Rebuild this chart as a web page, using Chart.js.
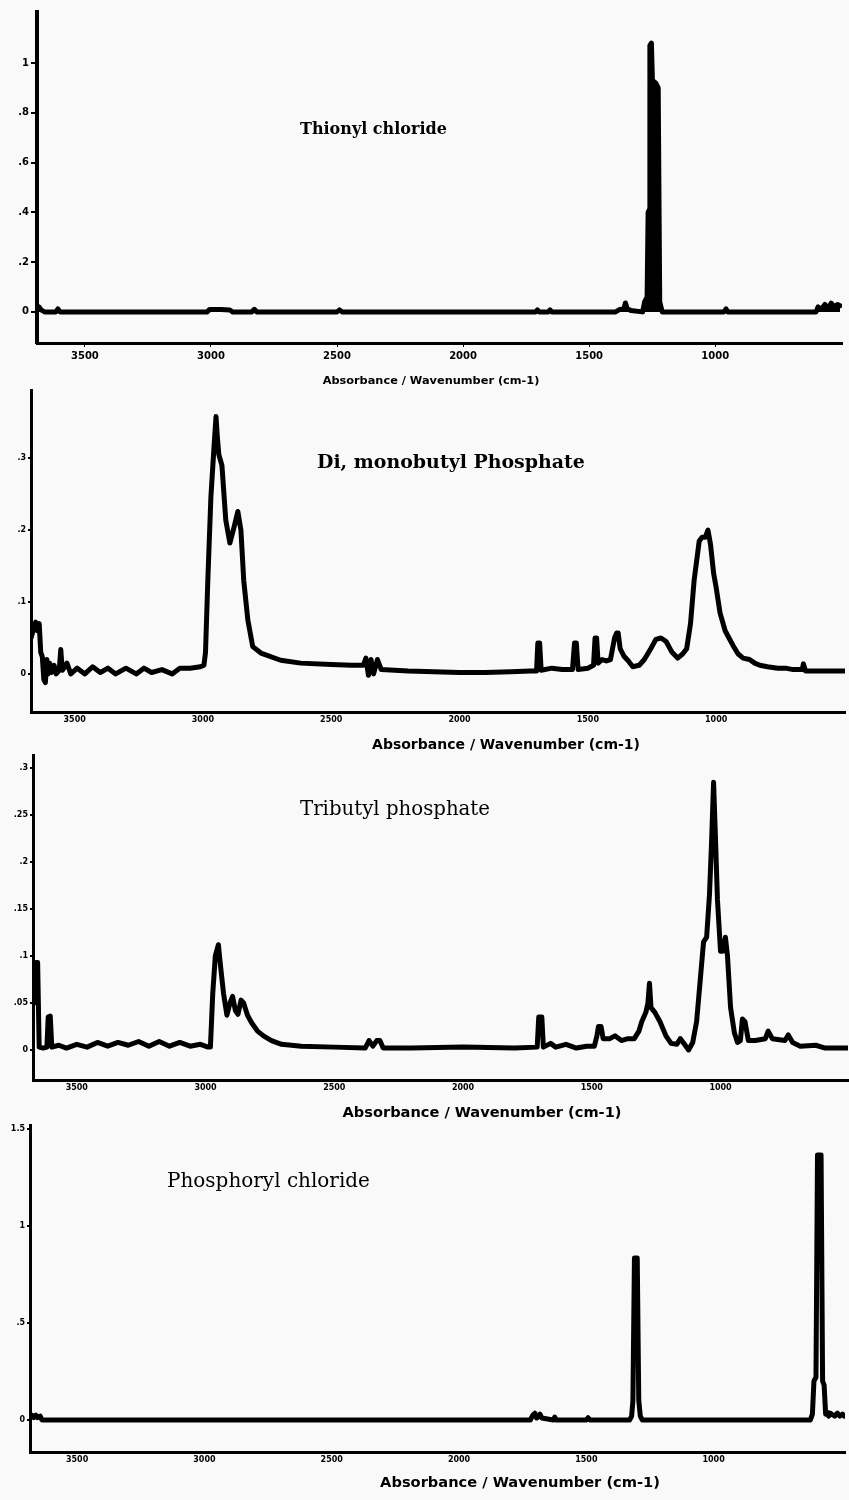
<!DOCTYPE html>
<html>
<head>
<meta charset="utf-8">
<title>IR spectra</title>
<script src="https://cdn.jsdelivr.net/npm/chart.js@4.4.1/dist/chart.umd.min.js"></script>
<style>
  body { margin: 0; background: #f9f9f9; }
  #page { position: relative; width: 849px; height: 1500px; overflow: hidden; }
  canvas { position: absolute; left: 0; }
</style>
</head>
<body>
<div id="page">
  <canvas id="c1"></canvas>
  <canvas id="c2"></canvas>
  <canvas id="c3"></canvas>
  <canvas id="c4"></canvas>
</div>
<script>
// wavenumber ticks shared by all four panels
const xTicks = [3500, 3000, 2500, 2000, 1500, 1000];

// Thionyl chloride
const thionylWn = [
  3690, 3682, 3674, 3660, 3615, 3607, 3598,
  3015, 3005, 2960, 2925, 2915,
  2838, 2828, 2818,
  2500, 2490, 2480,
  1712, 1705, 1698,
  1662, 1655, 1648,
  1395, 1378, 1362, 1356, 1349, 1335,
  1288, 1280, 1270, 1266, 1262, 1259, 1253, 1249, 1236, 1226, 1220, 1210,
  965, 957, 950,
  600, 592, 580, 565, 552, 540, 528, 515, 505
];
const thionylAbs = [
  0.012, 0.02, 0.008, 0, 0, 0.012, 0,
  0, 0.01, 0.01, 0.008, 0,
  0, 0.01, 0,
  0, 0.008, 0,
  0, 0.008, 0,
  0, 0.008, 0,
  0, 0.01, 0.012, 0.036, 0.012, 0.006,
  0, 0.04, 0.06, 0.40, 0.41, 1.07, 1.08, 0.93, 0.92, 0.9, 0.04, 0,
  0, 0.012, 0,
  0, 0.02, 0.01, 0.03, 0.015, 0.035, 0.02, 0.03, 0.025
];
const thionylTicksY = [0, 0.2, 0.4, 0.6, 0.8, 1];

// Di, monobutyl phosphate
const dibutylWn = [
  3670, 3662, 3652, 3645, 3638, 3632, 3626, 3620, 3614, 3608,
  3603, 3597, 3590, 3580, 3572, 3560, 3554, 3548, 3530, 3515,
  3490, 3460, 3430, 3400, 3370, 3340, 3300, 3260, 3230, 3200,
  3160, 3120, 3090, 3050, 3010, 2996, 2990, 2981, 2969, 2957,
  2949, 2944, 2938, 2926, 2911, 2895, 2879, 2864, 2852, 2841,
  2825, 2806, 2774, 2697, 2619, 2500, 2420, 2375, 2365, 2355,
  2345, 2335, 2320, 2305, 2200, 2100, 2000, 1900, 1800, 1724,
  1700, 1695, 1688, 1682, 1640, 1600, 1560, 1552, 1545, 1538,
  1500, 1478, 1472, 1466, 1460, 1445, 1428, 1412, 1396, 1388,
  1382, 1374, 1360, 1342, 1325, 1300, 1280, 1255, 1235, 1215,
  1195, 1172, 1150, 1130, 1115, 1100, 1086, 1066, 1055, 1043,
  1032, 1022, 1010, 1000, 985, 965, 950, 935, 915, 895,
  870, 850, 830, 800, 760, 730, 700, 665, 660, 652,
  600, 498
];
const dibutylAbs = [
  0.05, 0.06, 0.072, 0.06, 0.07, 0.03, 0.024, -0.008, -0.012, 0.02,
  0.0, 0.015, 0.002, 0.012, 0.0, 0.005, 0.034, 0.005, 0.015, 0.0,
  0.008, 0.0, 0.01, 0.002, 0.008, 0.0, 0.008, 0.0, 0.008, 0.002,
  0.006, 0.0, 0.008, 0.008, 0.01, 0.012, 0.03, 0.13, 0.246, 0.315,
  0.358, 0.33, 0.305, 0.29, 0.214, 0.182, 0.204, 0.226, 0.2, 0.13,
  0.075, 0.038, 0.029, 0.019, 0.015, 0.013, 0.012, 0.012, 0.022, -0.002,
  0.02, 0.0, 0.02, 0.006, 0.004, 0.003, 0.002, 0.002, 0.003, 0.004,
  0.004, 0.043, 0.043, 0.005, 0.008, 0.006, 0.006, 0.043, 0.043, 0.006,
  0.008, 0.012, 0.05, 0.05, 0.015, 0.02, 0.018, 0.02, 0.05, 0.057,
  0.057, 0.035, 0.025, 0.018, 0.01, 0.012, 0.02, 0.035, 0.048, 0.05,
  0.045, 0.03, 0.022, 0.028, 0.035, 0.07, 0.13, 0.185, 0.19, 0.19,
  0.2, 0.18, 0.14, 0.12, 0.085, 0.06, 0.05, 0.04, 0.028, 0.022,
  0.02, 0.015, 0.012, 0.01, 0.008, 0.008, 0.006, 0.006, 0.014, 0.004,
  0.004, 0.004
];
const dibutylTicksY = [0, 0.1, 0.2, 0.3];

// Tributyl phosphate
const tributylWn = [
  3670, 3664, 3658, 3652, 3646, 3630, 3616, 3611, 3603, 3597,
  3570, 3540, 3500, 3460, 3420, 3380, 3340, 3300, 3260, 3220,
  3180, 3140, 3100, 3060, 3020, 2990, 2981, 2972, 2962, 2950,
  2942, 2930, 2917, 2905, 2895, 2884, 2874, 2862, 2852, 2837,
  2821, 2798, 2775, 2744, 2705, 2628, 2500, 2380, 2365, 2350,
  2335, 2323, 2310, 2200, 2000, 1800, 1712, 1706, 1694, 1688,
  1660, 1640, 1600, 1560, 1520, 1490, 1480, 1474, 1464, 1456,
  1430, 1410, 1385, 1360, 1335, 1317, 1306, 1290, 1282, 1276,
  1270, 1255, 1235, 1212, 1192, 1170, 1156, 1140, 1124, 1108,
  1093, 1077, 1066, 1054, 1043, 1035, 1027, 1019, 1012, 1000,
  992, 981, 973, 961, 946, 934, 923, 915, 905, 892,
  865, 826, 815, 799, 750, 737, 720, 690, 630, 594,
  505
];
const tributylAbs = [
  0.07, 0.05, 0.093, 0.093, 0.003, 0.002, 0.003, 0.035, 0.036, 0.003,
  0.005, 0.002, 0.006, 0.003, 0.008, 0.004, 0.008, 0.005, 0.009, 0.004,
  0.009, 0.004, 0.008, 0.004, 0.006, 0.003, 0.003, 0.06, 0.1, 0.112,
  0.09, 0.06, 0.037, 0.05, 0.057, 0.042, 0.038, 0.053, 0.05, 0.037,
  0.029, 0.02, 0.015, 0.01, 0.006, 0.004, 0.003, 0.002, 0.01, 0.004,
  0.01, 0.01, 0.002, 0.002, 0.003, 0.002, 0.003, 0.035, 0.035, 0.003,
  0.007, 0.003, 0.006, 0.002, 0.004, 0.004, 0.015, 0.025, 0.025, 0.012,
  0.012, 0.015, 0.01, 0.012, 0.012, 0.02, 0.03, 0.04, 0.05, 0.071,
  0.045, 0.04, 0.03, 0.015, 0.007, 0.006, 0.012, 0.006, 0.0, 0.008,
  0.03, 0.08, 0.115, 0.12, 0.165, 0.22, 0.285, 0.22, 0.16, 0.105,
  0.105, 0.12, 0.1, 0.045, 0.018, 0.008, 0.01, 0.033, 0.03, 0.01,
  0.01, 0.012, 0.02, 0.012, 0.01, 0.016, 0.008, 0.004, 0.005, 0.002,
  0.002
];
const tributylTicksY = [0, 0.05, 0.1, 0.15, 0.2, 0.25, 0.3];

// Phosphoryl chloride
const phosphorylWn = [
  3685, 3678, 3670, 3662, 3655, 3645, 3638,
  1720, 1710, 1702, 1695, 1682, 1675, 1630, 1624, 1618,
  1500, 1493, 1486,
  1330, 1322, 1317, 1311, 1300, 1294, 1288, 1280,
  620, 612, 606, 598, 592, 578, 572, 566, 560, 554,
  548, 542, 534, 524, 514, 504, 494, 486
];
const phosphorylAbs = [
  0.01, 0.025, 0.012, 0.025, 0.012, 0.02, 0.0,
  0.0, 0.025, 0.035, 0.01, 0.03, 0.01, 0.0, 0.015, 0.0,
  0.0, 0.012, 0.0,
  0.0, 0.02, 0.1, 0.835, 0.835, 0.1, 0.02, 0.0,
  0.0, 0.03, 0.2, 0.22, 1.366, 1.366, 0.2, 0.18, 0.03, 0.04,
  0.02, 0.035, 0.028, 0.02, 0.035, 0.02, 0.03, 0.02
];
const phosphorylTicksY = [0, 0.5, 1, 1.5];

const panels = [
  { id: 'c1', wn: thionylWn, abs: thionylAbs, yTicks: thionylTicksY,
    xMin: 497, xMax: 3690, yMin: -0.125, yMax: 1.205,
    top: 12, bottom: 343, left: 37, right: 842,
    fill: true, lineW: 5, yBorder: 4, yFont: 10, xFont: 10, yTickLen: 6, xTickLen: 4, xPad: 3,
    title: 'Thionyl chloride', titleX: 300, titleY: 130, titleW: 147, titleWeight: 'bold',
    axisX: 431, axisY: 381, axisW: 217 },
  { id: 'c2', wn: dibutylWn, abs: dibutylAbs, yTicks: dibutylTicksY,
    xMin: 498, xMax: 3670, yMin: -0.053, yMax: 0.395,
    top: 390, bottom: 712, left: 31, right: 845,
    fill: false, lineW: 5, yBorder: 3, yFont: 8, xFont: 8, yTickLen: 3, xTickLen: 2, xPad: 1,
    title: 'Di, monobutyl Phosphate', titleX: 317, titleY: 463, titleW: 268, titleWeight: 'bold',
    axisX: 506, axisY: 745, axisW: 268 },
  { id: 'c3', wn: tributylWn, abs: tributylAbs, yTicks: tributylTicksY,
    xMin: 505, xMax: 3670, yMin: -0.032, yMax: 0.314,
    top: 755, bottom: 1080, left: 33, right: 848,
    fill: false, lineW: 5, yBorder: 3, yFont: 8, xFont: 8, yTickLen: 3, xTickLen: 2, xPad: 1,
    title: 'Tributyl phosphate', titleX: 300, titleY: 810, titleW: 190, titleWeight: 'normal',
    axisX: 482, axisY: 1113, axisW: 279 },
  { id: 'c4', wn: phosphorylWn, abs: phosphorylAbs, yTicks: phosphorylTicksY,
    xMin: 484, xMax: 3685, yMin: -0.165, yMax: 1.52,
    top: 1125, bottom: 1452, left: 30, right: 845,
    fill: false, lineW: 5, yBorder: 3, yFont: 8, xFont: 8, yTickLen: 3, xTickLen: 2, xPad: 1,
    title: 'Phosphoryl chloride', titleX: 167, titleY: 1182, titleW: 203, titleWeight: 'normal',
    axisX: 520, axisY: 1483, axisW: 280 }
];

const PAD_TOP = 8, X_H = 20, PAD_BOTTOM = 40;

// fit a font to a given text width
function fitFont(ctx, text, weight, family, width) {
  ctx.font = weight + ' 20px "' + family + '"';
  const size = 20 * width / ctx.measureText(text).width;
  ctx.font = weight + ' ' + size.toFixed(2) + 'px "' + family + '"';
}

function fmtY(v) {
  return v === 0 ? '0' : String(v).replace(/^0\./, '.');
}

panels.forEach(p => {
  const canvas = document.getElementById(p.id);
  const canvasTop = p.top - PAD_TOP;
  canvas.width = 849;
  canvas.height = (p.bottom - p.top) + PAD_TOP + X_H + PAD_BOTTOM;
  canvas.style.top = canvasTop + 'px';

  // panel name and axis caption
  const textPlugin = {
    id: 'panelText',
    afterDraw(chart) {
      const ctx = chart.ctx;
      ctx.save();
      ctx.fillStyle = '#000';
      ctx.textBaseline = 'middle';
      ctx.textAlign = 'left';
      fitFont(ctx, p.title, p.titleWeight, 'DejaVu Serif', p.titleW);
      ctx.fillText(p.title, p.titleX, p.titleY - canvasTop);
      ctx.textAlign = 'center';
      const cap = 'Absorbance / Wavenumber (cm-1)';
      fitFont(ctx, cap, 'bold', 'DejaVu Sans', p.axisW);
      ctx.fillText(cap, p.axisX, p.axisY - canvasTop);
      ctx.restore();
    }
  };

  new Chart(canvas, {
    type: 'line',
    data: {
      datasets: [{
        data: p.wn.map((w, i) => ({ x: w, y: p.abs[i] })),
        borderColor: '#000',
        backgroundColor: '#000',
        borderWidth: p.lineW,
        pointRadius: 0,
        tension: 0,
        fill: p.fill ? 'origin' : false,
        borderJoinStyle: 'round',
        borderCapStyle: 'round'
      }]
    },
    options: {
      responsive: false,
      animation: false,
      devicePixelRatio: 1,
      layout: { padding: { top: PAD_TOP, left: 0, right: 849 - p.right, bottom: PAD_BOTTOM } },
      plugins: { legend: { display: false }, tooltip: { enabled: false } },
      scales: {
        x: {
          type: 'linear',
          reverse: true,
          min: p.xMin,
          max: p.xMax,
          afterBuildTicks: s => { s.ticks = xTicks.map(v => ({ value: v })); },
          afterFit: s => { s.height = X_H; },
          ticks: {
            color: '#000',
            font: { family: 'DejaVu Sans', weight: 'bold', size: p.xFont },
            padding: p.xPad,
            maxRotation: 0,
            autoSkip: false,
            callback: v => String(v)
          },
          grid: { drawOnChartArea: false, drawTicks: true, tickLength: p.xTickLen, color: '#000', lineWidth: 1 },
          border: { color: '#000', width: 3 }
        },
        y: {
          min: p.yMin,
          max: p.yMax,
          afterBuildTicks: s => { s.ticks = p.yTicks.map(v => ({ value: v })); },
          afterFit: s => { s.width = p.left; },
          ticks: {
            color: '#000',
            font: { family: 'DejaVu Sans', weight: 'bold', size: p.yFont },
            padding: 2,
            callback: fmtY
          },
          grid: { drawOnChartArea: false, drawTicks: true, tickLength: p.yTickLen, color: '#000', lineWidth: 2 },
          border: { color: '#000', width: p.yBorder }
        }
      }
    },
    plugins: [textPlugin]
  });
});
</script>
</body>
</html>
